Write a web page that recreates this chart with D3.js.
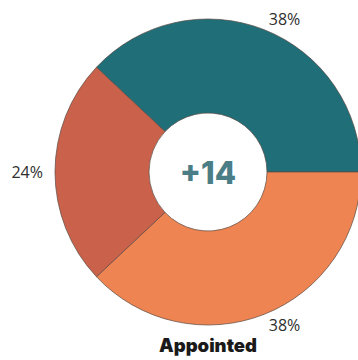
<!DOCTYPE html>
<html>
<head>
<meta charset="utf-8">
<script src="https://cdn.jsdelivr.net/npm/d3@7"></script>
<style>
  html, body { margin: 0; padding: 0; background: #fff; }
  svg { display: block; }
</style>
</head>
<body>
<svg id="chart" width="358" height="360"></svg>
<script>
// Share of appointed members by group
const categories = ["Group A", "Group B", "Group C"];
const shares = [38, 38, 24];
const colors = ["#1f6e78", "#ee8451", "#c9614b"];
const centerLabel = "+14";
const title = "Appointed";

const svg = d3.select("#chart");
const cx = 208, cy = 172;
const outerR = 153, innerR = 59, labelR = 165;

const startDeg = -46.8;
const pie = d3.pie()
  .sort(null)
  .value(d => d)
  .startAngle(startDeg * Math.PI / 180)
  .endAngle((startDeg + 360) * Math.PI / 180);

const arcs = pie(shares);
const arc = d3.arc().innerRadius(innerR).outerRadius(outerR);

const g = svg.append("g").attr("transform", `translate(${cx},${cy})`);

g.selectAll("path.slice")
  .data(arcs)
  .join("path")
  .attr("class", "slice")
  .attr("d", arc)
  .attr("fill", (d, i) => colors[i])
  .attr("stroke", "#5a4a44")
  .attr("stroke-width", 0.7);

// percentage labels just outside each slice
g.selectAll("text.pct")
  .data(arcs)
  .join("text")
  .attr("class", "pct")
  .each(function(d) {
    const a = (d.startAngle + d.endAngle) / 2;
    const x = labelR * Math.sin(a);
    const y = -labelR * Math.cos(a);
    d3.select(this)
      .attr("x", x)
      .attr("y", y)
      .attr("text-anchor", Math.abs(x) < 5 ? "middle" : (x > 0 ? "start" : "end"))
      .attr("dominant-baseline", "central");
  })
  .attr("font-family", "'Open Sans', sans-serif")
  .attr("font-size", 16)
  .attr("fill", "#2e2e2e")
  .text(d => d.data + "%");

g.append("text")
  .attr("x", 0)
  .attr("y", 0)
  .attr("text-anchor", "middle")
  .attr("dominant-baseline", "central")
  .attr("font-family", "Inter, 'Open Sans', sans-serif")
  .attr("font-weight", 800)
  .attr("font-size", 31)
  .attr("fill", "#4b7d86")
  .text(centerLabel);

svg.append("text")
  .attr("x", cx)
  .attr("y", 352)
  .attr("text-anchor", "middle")
  .attr("font-family", "Inter, 'Open Sans', sans-serif")
  .attr("font-weight", 900)
  .attr("font-size", 18.5)
  .attr("fill", "#1a1a1a")
  .text(title);
</script>
</body>
</html>
